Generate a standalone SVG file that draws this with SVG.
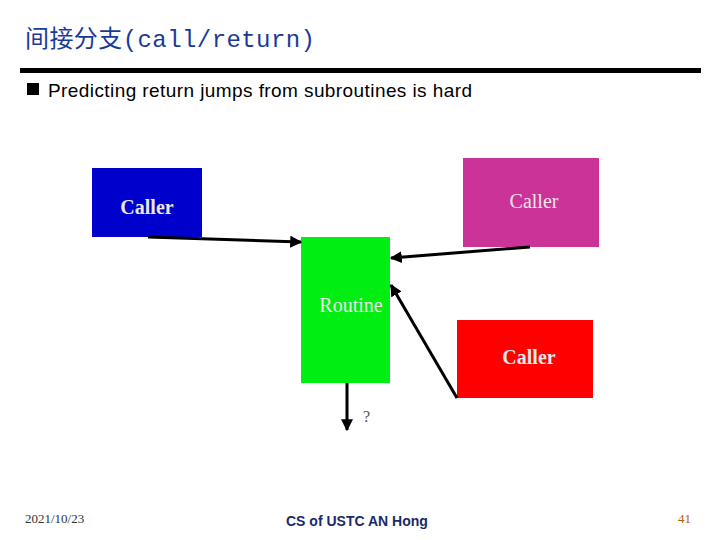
<svg xmlns="http://www.w3.org/2000/svg" width="720" height="540" viewBox="0 0 720 540">
<style>
.box text{font-family:"Liberation Serif",serif;font-size:20px;fill:#e8e8e8;text-anchor:middle}
.c line{stroke:#000;stroke-width:3;marker-end:url(#ah)}
</style>
<defs><marker id="ah" viewBox="0 0 10 10" refX="9" refY="5" markerWidth="4" markerHeight="4" orient="auto" markerUnits="strokeWidth"><path d="M0,0L10,5L0,10z" fill="#000"/></marker></defs>
<rect width="720" height="540" fill="#fff"/>
<text x="25" y="47" font-family="'Liberation Mono','Noto Sans CJK SC',monospace" font-size="24" fill="#1a3a9a" textLength="290">间接分支(call/return)</text>
<rect x="20" y="68" width="681" height="5" fill="#000"/>
<rect x="27" y="83" width="12" height="12" fill="#000"/>
<text x="48" y="97" font-family="'Liberation Sans',sans-serif" font-size="19" fill="#000" textLength="424">Predicting return jumps from subroutines is hard</text>
<g id="caller1" class="box"><rect x="92" y="168" width="110" height="69" fill="#0000cc"/><text x="147" y="214" font-weight="bold">Caller</text></g>
<g id="caller2" class="box"><rect x="463" y="158" width="136" height="89" fill="#cc3399"/><text x="534" y="208">Caller</text></g>
<g id="routine" class="box"><rect x="301" y="237" width="89" height="146" fill="#00ee11"/><text x="351" y="312">Routine</text></g>
<g id="caller3" class="box"><rect x="457" y="320" width="136" height="78" fill="#ff0000"/><text x="529" y="364" font-weight="bold">Caller</text></g>
<g id="connectors" class="c">
<line x1="148" y1="237" x2="301" y2="242"/>
<line x1="530" y1="247" x2="391" y2="258"/>
<line x1="457" y1="398" x2="391" y2="285"/>
<line x1="347" y1="383" x2="347" y2="430"/>
</g>
<text x="363" y="422" font-family="'Liberation Serif',serif" font-size="16" fill="#555">?</text>
<text x="25" y="523" font-family="'Liberation Serif',serif" font-size="13" fill="#333">2021/10/23</text>
<text x="286" y="526" font-family="'Liberation Sans',sans-serif" font-size="14" font-weight="bold" fill="#1a2a6a">CS of USTC AN Hong</text>
<text x="678" y="523" font-family="'Liberation Serif',serif" font-size="13" fill="#b06000">41</text>
</svg>
